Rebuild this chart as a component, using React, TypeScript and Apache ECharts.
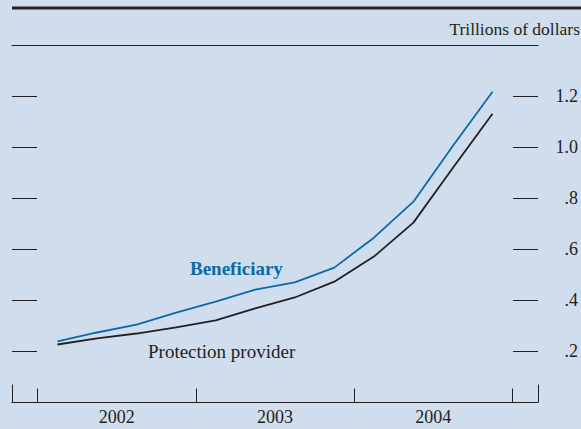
import React, { useEffect, useRef } from "react";
import * as echarts from "echarts";

const quarters = [
  "2002Q1", "2002Q2", "2002Q3", "2002Q4",
  "2003Q1", "2003Q2", "2003Q3", "2003Q4",
  "2004Q1", "2004Q2", "2004Q3", "2004Q4",
];
const beneficiary = [0.239, 0.274, 0.305, 0.352, 0.395, 0.442, 0.470, 0.528, 0.645, 0.786, 1.005, 1.216];
const protectionProvider = [0.227, 0.251, 0.270, 0.294, 0.321, 0.368, 0.411, 0.473, 0.571, 0.704, 0.919, 1.130];
const years = ["2002", "2003", "2004"];
const yearBounds = [-0.5, 3.5, 7.5, 11.5];
const yearMids = [1.5, 5.5, 9.5];
const yTicks = [0.2, 0.4, 0.6, 0.8, 1.0, 1.2];
const X_MIN = -1.15;
const X_MAX = 12.15;

const FONT = "Liberation Serif";
const INK = "#231f20";
const BG = "#d0ddec";
const BLUE = "#0a6aa6";

export default function App() {
  const ref = useRef<HTMLDivElement>(null);
  useEffect(() => {
    if (!ref.current) return;
    const chart = echarts.init(ref.current, undefined, { renderer: "svg" });
    const tickLabel = (v: number) => {
      const s = v.toFixed(1);
      return v < 1 ? s.slice(1) : s;
    };
    const noLine = { show: false, onZero: false };
    chart.setOption({
      animation: false,
      backgroundColor: BG,
      textStyle: { fontFamily: FONT, color: INK },
      grid: { left: 12, right: 38, top: 44.8, bottom: 26.5, containLabel: false },
      xAxis: [
        {
          type: "value",
          position: "bottom",
          min: X_MIN,
          max: X_MAX,
          axisLine: { show: true, onZero: false, lineStyle: { color: INK, width: 1 } },
          axisTick: { show: true, inside: true, length: 14, customValues: yearBounds, lineStyle: { color: INK, width: 1 } },
          axisLabel: {
            show: true,
            customValues: yearMids,
            formatter: (v: number) => years[yearMids.indexOf(v)] ?? "",
            fontFamily: FONT,
            fontSize: 18,
            color: INK,
            margin: 5,
          },
          splitLine: { show: false },
        },
        {
          type: "value",
          position: "bottom",
          offset: 0,
          min: X_MIN,
          max: X_MAX,
          axisLine: noLine,
          axisTick: { show: true, inside: true, length: 18, customValues: [X_MIN, X_MAX], lineStyle: { color: INK, width: 1 } },
          axisLabel: { show: false },
          splitLine: { show: false },
        },
        {
          type: "value",
          position: "top",
          offset: 0,
          min: X_MIN,
          max: X_MAX,
          axisLine: { show: true, onZero: false, lineStyle: { color: INK, width: 1 } },
          axisTick: { show: false },
          axisLabel: { show: false },
          splitLine: { show: false },
        },
      ],
      yAxis: [
        {
          type: "value",
          position: "left",
          min: 0,
          max: 1.4,
          axisLine: noLine,
          axisTick: { show: true, inside: true, length: 25, customValues: yTicks, lineStyle: { color: INK, width: 1 } },
          axisLabel: { show: false },
          splitLine: { show: false },
        },
        {
          type: "value",
          position: "right",
          min: 0,
          max: 1.4,
          axisLine: noLine,
          axisTick: { show: true, inside: true, length: 25, customValues: yTicks, lineStyle: { color: INK, width: 1 } },
          axisLabel: {
            show: true,
            customValues: yTicks,
            formatter: tickLabel,
            align: "right",
            margin: 40,
            fontFamily: FONT,
            fontSize: 18,
            color: INK,
          },
          splitLine: { show: false },
        },
      ],
      series: [
        {
          name: "Beneficiary",
          type: "line",
          xAxisIndex: 0,
          yAxisIndex: 0,
          data: beneficiary.map((v, i) => [i, v]),
          showSymbol: false,
          symbol: "none",
          lineStyle: { color: BLUE, width: 1.8 },
          clip: false,
        },
        {
          name: "Protection provider",
          type: "line",
          xAxisIndex: 0,
          yAxisIndex: 0,
          data: protectionProvider.map((v, i) => [i, v]),
          showSymbol: false,
          symbol: "none",
          lineStyle: { color: INK, width: 1.8 },
          clip: false,
        },
      ],
      graphic: [
        {
          type: "line",
          shape: { x1: 12, y1: 8, x2: 581, y2: 8 },
          style: { stroke: INK, lineWidth: 3 },
        },
        {
          type: "text",
          x: 580,
          y: 29,
          style: {
            text: "Trillions of dollars",
            font: `17.5px "${FONT}"`,
            fill: INK,
            align: "right",
            verticalAlign: "middle",
          },
        },
        {
          type: "text",
          x: 190,
          y: 268,
          style: {
            text: "Beneficiary",
            font: `bold 19px "${FONT}"`,
            fill: BLUE,
            align: "left",
            verticalAlign: "middle",
          },
        },
        {
          type: "text",
          x: 148,
          y: 351,
          style: {
            text: "Protection provider",
            font: `19px "${FONT}"`,
            fill: INK,
            align: "left",
            verticalAlign: "middle",
          },
        },
      ],
    });
    return () => chart.dispose();
  }, []);
  return (
    <div
      ref={ref}
      style={{ position: "absolute", left: 0, top: 0, width: 581, height: 429 }}
    />
  );
}
